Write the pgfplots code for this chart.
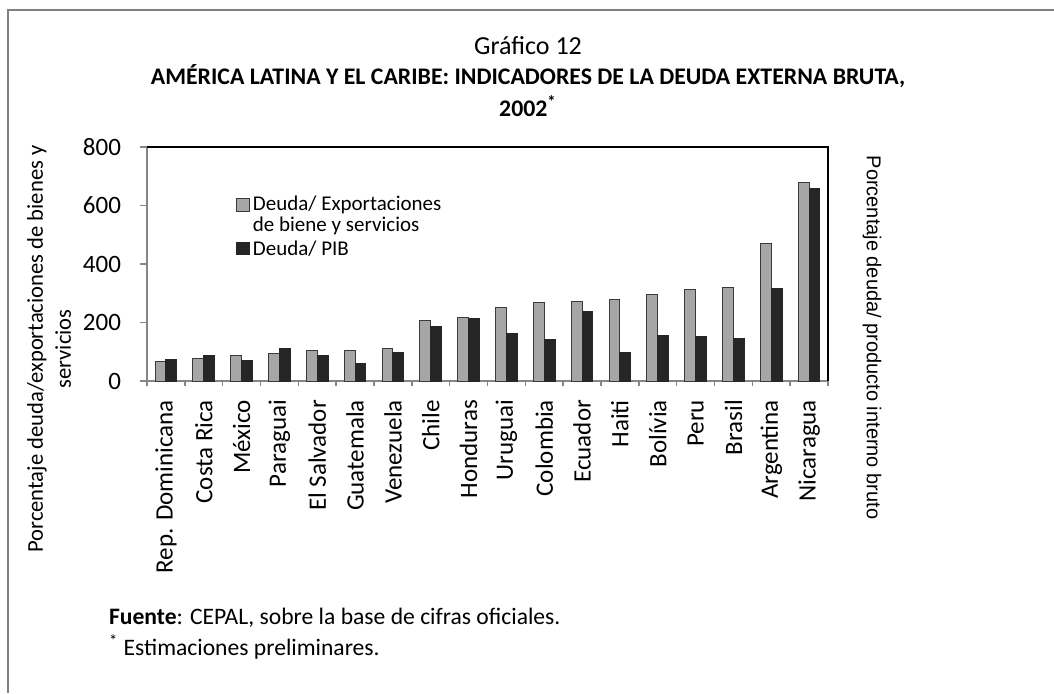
\documentclass[border=0pt]{standalone}
\usepackage{fontspec}
\setmainfont{Carlito}
\newfontfamily\arialfont{Liberation Sans}
\usepackage{pgfplots}
\pgfplotsset{compat=1.18}
\definecolor{framegray}{HTML}{808080}
\definecolor{axisgray}{HTML}{868686}
\definecolor{bargray}{HTML}{A6A6A6}
\definecolor{baredge}{HTML}{3A3A3A}
\definecolor{bardark}{HTML}{262626}
\begin{document}
\begin{tikzpicture}
\useasboundingbox (0,0) rectangle (527pt,-346.5pt);
\draw[framegray, line width=1pt] (4pt,-346.5pt) -- (4pt,-5pt) -- (527pt,-5pt);
\node[font={\fontsize{13}{15}\selectfont}] at (264pt,-23pt) {Gráfico 12};
\node[font={\fontsize{11.9}{14}\selectfont\bfseries}] at (264pt,-38pt) {AMÉRICA LATINA Y EL CARIBE: INDICADORES DE LA DEUDA EXTERNA BRUTA,};
\node[font={\fontsize{11.9}{14}\selectfont\bfseries}] at (264pt,-53pt) {2002\textsuperscript{*}};
\node[font={\fontsize{11.3}{14}\selectfont}, rotate=90, align=center] at (24.5pt,-174.5pt) {Porcentaje deuda/exportaciones de bienes y\\servicios};
\node[font={\fontsize{10}{12}\selectfont\arialfont}, rotate=-90] at (436pt,-168.75pt) {Porcentaje deuda/ producto interno bruto};
\node[font={\fontsize{11.8}{14}\selectfont}, anchor=west] at (51pt,-309pt) {\textbf{Fuente}: CEPAL, sobre la base de cifras oficiales.};
\node[font={\fontsize{11.8}{14}\selectfont}, anchor=west] at (51pt,-323.5pt) {\textsuperscript{*} Estimaciones preliminares.};
\begin{axis}[
  at={(73.5pt,-190.5pt)}, anchor=south west,
  scale only axis, width=340.5pt, height=117pt,
  xmin=-0.5, xmax=17.5, ymin=0, ymax=800,
  ytick={0,200,400,600,800},
  xtick={0,...,17},
  xticklabels={Rep. Dominicana,Costa Rica,México,Paraguai,El Salvador,Guatemala,Venezuela,Chile,Honduras,Uruguai,Colombia,Ecuador,Haiti,Bolívia,Peru,Brasil,Argentina,Nicaragua},
  minor xtick={-0.5,0.5,...,17.5},
  axis x line*=bottom, axis y line*=left,
  axis line style={axisgray, line width=0.8pt},
  major x tick style={draw=none},
  tick style={axisgray, line width=0.8pt},
  tick align=outside,
  major tick length=3.5pt, minor tick length=2.5pt,
  x tick label style={rotate=90, anchor=east, font={\fontsize{12.5}{14}\selectfont}},
  xticklabel shift=2.5pt,
  y tick label style={font={\fontsize{12.5}{14}\selectfont}, /pgf/number format/assume math mode=true},
  yticklabel shift=6pt,
  legend style={draw=none, fill=none, at={(0.13,0.805)}, anchor=north west,
    font={\fontsize{10.5}{12}\selectfont}, row sep=-1.2pt, inner sep=0pt,
    nodes={inner sep=1.5pt}},
  legend cell align=left,
  legend image code/.code={\draw[#1] (0pt,-3.2pt) rectangle (6.5pt,3.2pt);},
  clip=false,
]
\addplot[ybar, bar width=0.285, bar shift=-0.1425, fill=bargray, draw=baredge, line width=0.5pt]
  coordinates {(0,67) (1,77) (2,86) (3,93) (4,103) (5,104) (6,111) (7,207) (8,217) (9,253) (10,269) (11,272) (12,278) (13,297) (14,313) (15,319) (16,469) (17,680)};
\addlegendentry{Deuda/ Exportaciones}
\addlegendimage{empty legend}
\addlegendentry{de biene y servicios}
\addplot[ybar, bar width=0.285, bar shift=0.1425, fill=bardark, draw=bardark, line width=0.5pt]
  coordinates {(0,72) (1,86) (2,70) (3,111) (4,86) (5,59) (6,98) (7,186) (8,213) (9,162) (10,142) (11,237) (12,98) (13,157) (14,152) (15,144) (16,318) (17,658)};
\addlegendentry{\rule{0pt}{8.5pt}Deuda/ PIB}
\draw[black, line width=0.8pt] (rel axis cs:0,1) -- (rel axis cs:1,1) -- (rel axis cs:1,0);
\end{axis}
\end{tikzpicture}
\end{document}
